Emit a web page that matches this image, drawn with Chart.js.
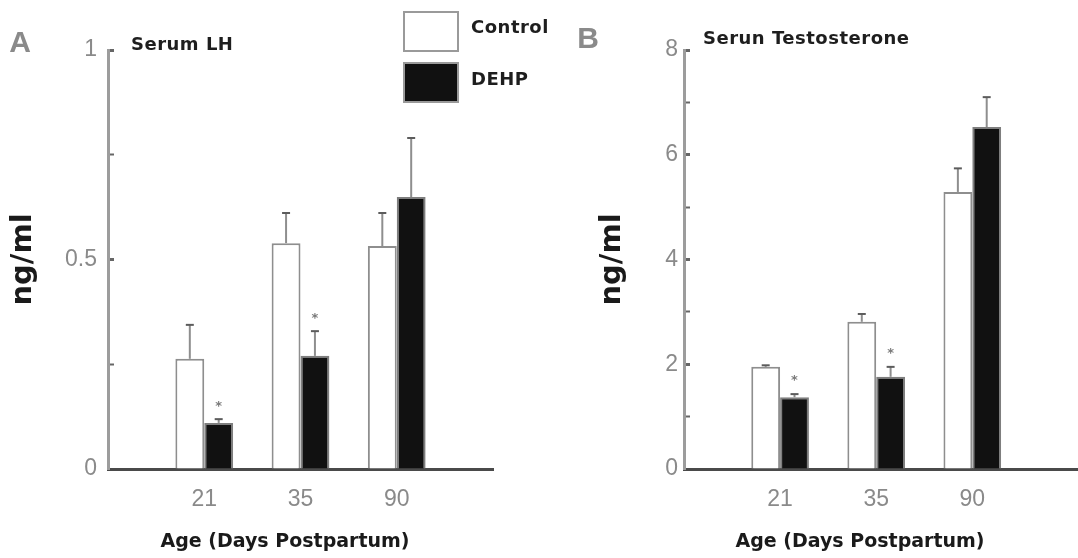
<!DOCTYPE html>
<html>
<head>
<meta charset="utf-8">
<script src="https://cdn.jsdelivr.net/npm/chart.js@4.4.1/dist/chart.umd.min.js"></script>
<style>
html, body { margin: 0; padding: 0; background: #ffffff; }
#wrap { position: relative; width: 1078px; height: 558px; overflow: hidden; background: #ffffff; }
#wrap canvas { position: absolute; left: 0; top: 0; }
</style>
</head>
<body>
<div id="wrap">
  <canvas id="lhChart" width="1078" height="558"></canvas>
  <canvas id="tChart" width="1078" height="558"></canvas>
</div>
<script>
// ---- data ----
const ages = ['21', '35', '90'];
const seriesNames = ['Control', 'DEHP'];
const xTitle = 'Age (Days Postpartum)';
const yTitle = 'ng/ml';

const lhControl    = [0.263, 0.539, 0.532];
const lhControlSem = [0.081, 0.072, 0.079];
const lhDehp       = [0.110, 0.270, 0.649];
const lhDehpSem    = [0.009, 0.059, 0.141];
const lhDehpSig    = ['*', '*', ''];
const lhTickLabels = [0, 0.5, 1];

const tControl     = [1.95, 2.81, 5.29];
const tControlSem  = [0.03, 0.15, 0.45];
const tDehp        = [1.37, 1.76, 6.53];
const tDehpSem     = [0.06, 0.19, 0.57];
const tDehpSig     = ['*', '*', ''];
const tTickLabels  = [0, 2, 4, 6, 8];

// ---- helpers ----
const NARROW = "'Liberation Sans Narrow', 'Liberation Sans', Arial, sans-serif";
const WIDE = "'DejaVu Sans', 'Liberation Sans', sans-serif";
// each age group sits at slot 1, 2, 3 of the x axis
const toPoints = vals => vals.map((v, i) => ({ x: i + 1, y: v }));

const errorBarPlugin = {
  id: 'errorBars',
  afterDatasetsDraw(chart) {
    const ctx = chart.ctx;
    const yScale = chart.scales.y;
    chart.data.datasets.forEach((ds, di) => {
      const meta = chart.getDatasetMeta(di);
      meta.data.forEach((bar, j) => {
        const v = ds.data[j].y;
        const e = ds.sem ? ds.sem[j] : null;
        if (v == null || e == null) return;
        const yTop = yScale.getPixelForValue(v + e);
        ctx.save();
        ctx.strokeStyle = '#8e8e8e';
        ctx.lineWidth = 2;
        ctx.beginPath();
        ctx.moveTo(bar.x, bar.y);
        ctx.lineTo(bar.x, yTop);
        ctx.stroke();
        ctx.strokeStyle = '#5c5c5c';
        ctx.beginPath();
        ctx.moveTo(bar.x - 4, yTop);
        ctx.lineTo(bar.x + 4, yTop);
        ctx.stroke();
        const s = ds.sig ? ds.sig[j] : '';
        if (s) {
          ctx.fillStyle = '#7a7a7a';
          ctx.font = 'bold 13px ' + WIDE;
          ctx.textAlign = 'center';
          ctx.textBaseline = 'middle';
          ctx.fillText(s, bar.x, yTop - 13);
        }
        ctx.restore();
      });
    });
  }
};

const panelPlugin = {
  id: 'panelDeco',
  afterDraw(chart, args, opts) {
    const ctx = chart.ctx;
    ctx.save();
    ctx.textBaseline = 'middle';
    // panel letter
    ctx.fillStyle = '#8a8a8a';
    ctx.font = 'bold 30px ' + NARROW;
    ctx.textAlign = 'center';
    ctx.fillText(opts.letter, opts.letterX, opts.letterY);
    // x-axis title
    ctx.fillStyle = '#1a1a1a';
    ctx.font = 'bold 19px ' + WIDE;
    ctx.fillText(xTitle, opts.xTitleX, opts.xTitleY);
    // panel title
    ctx.fillStyle = '#1e1e1e';
    ctx.font = 'bold 18px ' + WIDE;
    ctx.textAlign = 'left';
    if ('letterSpacing' in ctx) ctx.letterSpacing = '0.5px';
    ctx.fillText(opts.title, opts.titleX, opts.titleY);
    // legend
    if (opts.legend) {
      chart.data.datasets.forEach((ds, i) => {
        const bx = opts.legendX, by = opts.legendY + i * 51;
        ctx.fillStyle = ds.backgroundColor;
        ctx.fillRect(bx, by, 56, 41);
        ctx.strokeStyle = '#9a9a9a';
        ctx.lineWidth = 2;
        ctx.strokeRect(bx + 1, by + 1, 54, 39);
        ctx.fillStyle = '#1e1e1e';
        ctx.fillText(ds.label, bx + 68, by + 17 + i * 1.5);
      });
    }
    ctx.restore();
  }
};

function makeChart(id, cfg) {
  return new Chart(document.getElementById(id), {
    type: 'bar',
    data: {
      datasets: [
        {
          label: seriesNames[0],
          data: toPoints(cfg.control),
          sem: cfg.controlSem,
          backgroundColor: '#ffffff',
          borderColor: '#8e8e8e',
          borderWidth: 2,
          categoryPercentage: 0.6,
          barPercentage: 1.0
        },
        {
          label: seriesNames[1],
          data: toPoints(cfg.dehp),
          sem: cfg.dehpSem,
          sig: cfg.dehpSig,
          backgroundColor: '#111111',
          borderColor: '#7e7e7e',
          borderWidth: 2,
          categoryPercentage: 0.6,
          barPercentage: 1.0
        }
      ]
    },
    options: {
      responsive: false,
      animation: false,
      devicePixelRatio: 1,
      layout: { padding: { left: cfg.padLeft, right: cfg.padRight, top: 50, bottom: 0 } },
      plugins: {
        legend: { display: false },
        tooltip: { enabled: false },
        panelDeco: cfg.deco
      },
      scales: {
        x: {
          type: 'linear',
          min: 0,
          max: cfg.xMax,
          offset: false,
          grid: { display: false, drawTicks: false, offset: false },
          border: { display: true, color: '#4a4a4a', width: 3 },
          afterBuildTicks: s => { s.ticks = ages.map((_, i) => ({ value: i + 1 })); },
          ticks: {
            autoSkip: false, maxRotation: 0, padding: 17,
            color: '#8a8a8a',
            font: { family: NARROW, size: 23 },
            callback: v => ages[v - 1] ?? ''
          },
          title: { display: false, text: xTitle },
          afterFit: s => { s.height = 89; }
        },
        y: {
          type: 'linear',
          min: 0,
          max: cfg.yMax,
          grid: {
            display: true,
            drawOnChartArea: false,
            drawTicks: true,
            tickLength: -6,
            tickColor: '#666666',
            tickWidth: c => (c.tick && cfg.tickLabels.includes(c.tick.value)) ? 3 : 2
          },
          border: { display: true, color: '#9c9c9c', width: 3 },
          ticks: {
            stepSize: cfg.yStep,
            autoSkip: false,
            padding: cfg.tickPad,
            color: '#8a8a8a',
            font: { family: NARROW, size: 23 },
            callback: v => cfg.tickLabels.includes(v) ? String(v) : ''
          },
          title: {
            display: true,
            text: yTitle,
            color: '#1a1a1a',
            font: { family: WIDE, size: 29, weight: 'bold' },
            padding: { top: cfg.titlePadTop, bottom: 0 }
          },
          afterFit: s => { s.width = cfg.yWidth; }
        }
      }
    },
    plugins: [errorBarPlugin, panelPlugin]
  });
}

makeChart('lhChart', {
  control: lhControl, controlSem: lhControlSem,
  dehp: lhDehp, dehpSem: lhDehpSem, dehpSig: lhDehpSig,
  yMax: 1, yStep: 0.25, tickLabels: lhTickLabels, xMax: 4,
  padLeft: 0, padRight: 585, yWidth: 108, titlePadTop: 6, tickPad: 17,
  deco: { letter: 'A', letterX: 20, letterY: 44, title: 'Serum LH', titleX: 131, titleY: 45,
          xTitleX: 285, xTitleY: 542,
          legend: true, legendX: 403, legendY: 11 }
});

makeChart('tChart', {
  control: tControl, controlSem: tControlSem,
  dehp: tDehp, dehpSem: tDehpSem, dehpSig: tDehpSig,
  yMax: 8, yStep: 1, tickLabels: tTickLabels, xMax: 4.1,
  padLeft: 540, padRight: 0, yWidth: 144, titlePadTop: 55, tickPad: 12,
  deco: { letter: 'B', letterX: 588, letterY: 40, title: 'Serun Testosterone', titleX: 703, titleY: 39,
          xTitleX: 860, xTitleY: 542,
          legend: false }
});
</script>
</body>
</html>
